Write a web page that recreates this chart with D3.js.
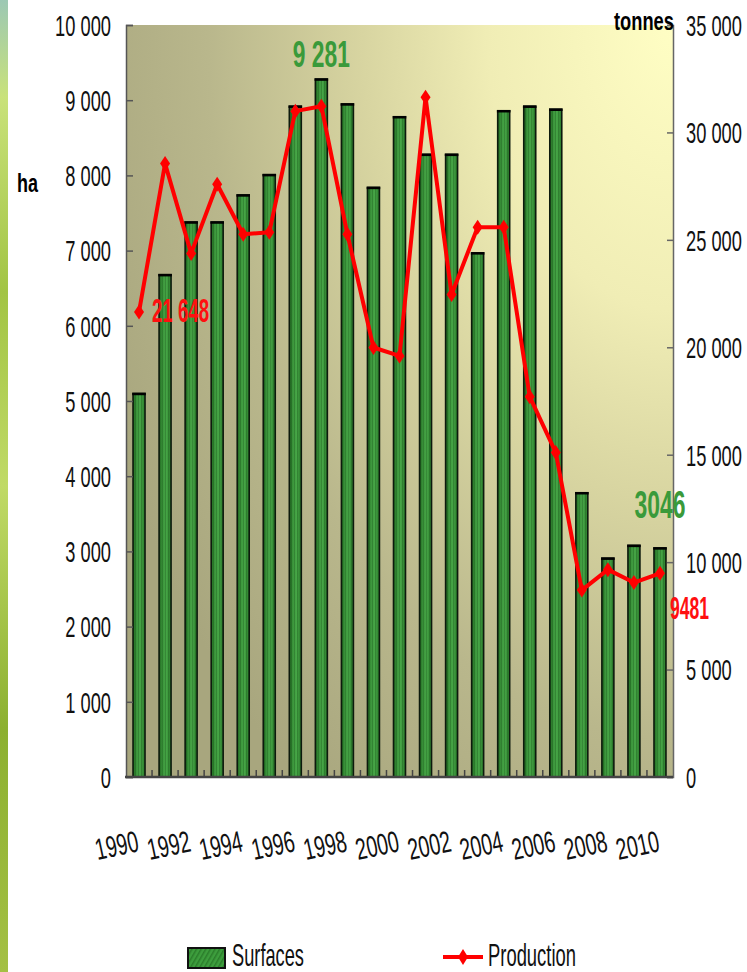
<!DOCTYPE html>
<html>
<head>
<meta charset="utf-8">
<script src="https://cdn.jsdelivr.net/npm/d3@7"></script>
<style>
  body { margin: 0; background: #fff; }
  svg { display: block; }
  text { font-family: "Liberation Sans", Arial, sans-serif; }
</style>
</head>
<body>
<svg id="chart"></svg>
<script>
const years = [1990, 1991, 1992, 1993, 1994, 1995, 1996, 1997, 1998, 1999, 2000,
  2001, 2002, 2003, 2004, 2005, 2006, 2007, 2008, 2009, 2010];
const surfaces = [5100, 6680, 7380, 7380, 7740, 8010, 8920, 9281, 8950, 7840, 8780,
  8280, 8280, 6970, 8860, 8920, 8880, 3780, 2910, 3080, 3046];
const production = [21648, 28550, 24370, 27590, 25260, 25350, 30990, 31220, 25260, 19990, 19600,
  31640, 22460, 25590, 25590, 17700, 15100, 8700, 9650, 9050, 9481];
const yearLabels = [1990, 1992, 1994, 1996, 1998, 2000, 2002, 2004, 2006, 2008, 2010];
const haTicks = [0, 1000, 2000, 3000, 4000, 5000, 6000, 7000, 8000, 9000, 10000];
const tonnesTicks = [0, 5000, 10000, 15000, 20000, 25000, 30000, 35000];

const width = 747;
const height = 972;
const plotLeft = 126, plotRight = 673, plotTop = 25, plotBottom = 777;

const svg = d3.select("#chart")
  .attr("width", width)
  .attr("height", height);

const fr = d3.formatLocale({ thousands: " ", grouping: [3], decimal: ",", currency: ["", ""] });
const fmt = fr.format(",d");

// the slide was stretched tall, so text is squeezed sideways
function fit(t, x, y, w, rot) {
  const n = t.node().getComputedTextLength();
  t.attr("transform", `translate(${x},${y})${rot ? ` rotate(${rot})` : ""} scale(${w / n},1)`);
  return t;
}

const defs = svg.append("defs");

const bg = defs.append("radialGradient")
  .attr("id", "bg")
  .attr("gradientUnits", "userSpaceOnUse")
  .attr("cx", 0).attr("cy", 0).attr("r", 1)
  .attr("gradientTransform", `translate(${plotRight},${plotTop}) scale(620,950)`);
[[0, "#fffec4"], [0.3, "#f0edb5"], [0.5, "#d8d5a1"], [0.75, "#b9b78c"], [1, "#a8a67e"]]
  .forEach(s => bg.append("stop").attr("offset", s[0]).attr("stop-color", s[1]));

const barGrad = defs.append("linearGradient").attr("id", "barGrad");
[[0, "#1f661f"], [0.3, "#3c963c"], [0.6, "#46a546"], [1, "#2a7a2a"]]
  .forEach(s => barGrad.append("stop").attr("offset", s[0]).attr("stop-color", s[1]));

const stripes = defs.append("pattern")
  .attr("id", "stripes")
  .attr("patternUnits", "userSpaceOnUse")
  .attr("width", 3).attr("height", 8);
stripes.append("rect").attr("width", 1).attr("height", 8).attr("fill", "rgba(10,60,10,0.25)");

const hatch = defs.append("pattern")
  .attr("id", "hatch")
  .attr("patternUnits", "userSpaceOnUse")
  .attr("width", 4).attr("height", 4)
  .attr("patternTransform", "rotate(30)");
hatch.append("rect").attr("width", 4).attr("height", 4).attr("fill", "#3d9d3d");
hatch.append("rect").attr("width", 1.5).attr("height", 4).attr("fill", "#2b7d2b");

const strip = defs.append("linearGradient").attr("id", "strip")
  .attr("x1", 0).attr("y1", 0).attr("x2", 0).attr("y2", 1);
[[0, "#9cc8b4"], [0.1, "#c9e27a"], [0.3, "#a2c444"], [0.5, "#c0da66"], [0.75, "#8cb030"], [1, "#a4c044"]]
  .forEach(s => strip.append("stop").attr("offset", s[0]).attr("stop-color", s[1]));

svg.append("rect").attr("x", 0).attr("y", 0).attr("width", 8).attr("height", height).attr("fill", "url(#strip)");

// scales
const x = d3.scaleBand()
  .domain(years)
  .range([plotLeft, plotRight])
  .paddingInner(0.54)
  .paddingOuter(0.27);
const xc = d => x(d) + x.bandwidth() / 2;

const yL = d3.scaleLinear().domain([0, 10000]).range([plotBottom, plotTop]);
const yR = d3.scaleLinear().domain([0, 35000]).range([plotBottom, plotTop]);

// plot area
svg.append("rect")
  .attr("x", plotLeft).attr("y", plotTop)
  .attr("width", plotRight - plotLeft).attr("height", plotBottom - plotTop)
  .attr("fill", "url(#bg)");

// bars
const bars = svg.append("g");
bars.selectAll(".bar")
  .data(years)
  .enter()
  .append("rect")
  .attr("class", "bar")
  .attr("x", d => x(d))
  .attr("y", (d, i) => yL(surfaces[i]))
  .attr("width", x.bandwidth())
  .attr("height", (d, i) => plotBottom - yL(surfaces[i]))
  .attr("fill", "url(#barGrad)")
  .attr("stroke", "#0d1a0d")
  .attr("stroke-width", 1.6);
bars.selectAll(".tex")
  .data(years)
  .enter()
  .append("rect")
  .attr("class", "tex")
  .attr("x", d => x(d) + 1)
  .attr("y", (d, i) => yL(surfaces[i]) + 1)
  .attr("width", x.bandwidth() - 2)
  .attr("height", (d, i) => plotBottom - yL(surfaces[i]) - 1)
  .attr("fill", "url(#stripes)");
bars.selectAll(".cap")
  .data(years)
  .enter()
  .append("line")
  .attr("class", "cap")
  .attr("x1", d => x(d) - 0.8)
  .attr("x2", d => x(d) + x.bandwidth() + 0.8)
  .attr("y1", (d, i) => yL(surfaces[i]) + 0.5)
  .attr("y2", (d, i) => yL(surfaces[i]) + 0.5)
  .attr("stroke", "#000")
  .attr("stroke-width", 2.5);

// axes
const leftAxis = svg.append("g")
  .attr("transform", `translate(${plotLeft},0)`)
  .call(d3.axisRight(yL).tickValues(haTicks).tickSize(7).tickFormat(""));
leftAxis.select(".domain").attr("stroke", "#555").attr("stroke-width", 1.5);
leftAxis.selectAll(".tick line").attr("stroke", "#555").attr("stroke-width", 1.5);

const rightAxis = svg.append("g")
  .attr("transform", `translate(${plotRight},0)`)
  .call(d3.axisLeft(yR).tickValues(tonnesTicks).tickSize(6).tickFormat(""));
rightAxis.select(".domain").attr("stroke", "#666").attr("stroke-width", 1.5);
rightAxis.selectAll(".tick line").attr("stroke", "#666").attr("stroke-width", 1.5);

// bottom axis with ticks between categories
const bounds = years.slice(1).map(d => x(d) - x.step() * x.paddingInner() / 2);
svg.append("g").selectAll("line")
  .data(bounds)
  .enter()
  .append("line")
  .attr("x1", d => d).attr("x2", d => d)
  .attr("y1", plotBottom).attr("y2", plotBottom - 7)
  .attr("stroke", "#444").attr("stroke-width", 1.5);
svg.append("line")
  .attr("x1", plotLeft - 1).attr("x2", plotRight)
  .attr("y1", plotBottom).attr("y2", plotBottom)
  .attr("stroke", "#444").attr("stroke-width", 2.5);

// tick labels
svg.append("g").selectAll("text")
  .data(haTicks)
  .enter()
  .append("text")
  .attr("transform", d => `translate(111,${yL(d)}) scale(0.61,1)`)
  .attr("dy", "0.36em")
  .attr("text-anchor", "end")
  .attr("font-size", 30)
  .attr("fill", "#111")
  .text(d => fmt(d));

svg.append("g").selectAll("text")
  .data(tonnesTicks)
  .enter()
  .append("text")
  .attr("transform", d => `translate(686,${yR(d)}) scale(0.61,1)`)
  .attr("dy", "0.36em")
  .attr("font-size", 30)
  .attr("fill", "#111")
  .text(d => fmt(d));

svg.append("g").selectAll("text")
  .data(yearLabels)
  .enter()
  .append("text")
  .attr("transform", d => `translate(${xc(d) + 1},851) rotate(-12) scale(0.65,1)`)
  .attr("text-anchor", "end")
  .attr("font-size", 30)
  .attr("fill", "#111")
  .text(d => d);

// production line
const line = d3.line()
  .x((d, i) => xc(years[i]))
  .y(d => yR(d));
svg.append("path")
  .datum(production)
  .attr("d", line)
  .attr("fill", "none")
  .attr("stroke", "#ff0000")
  .attr("stroke-width", 4)
  .attr("stroke-linejoin", "round");

const diamond = "M0,-7.5L5,0L0,7.5L-5,0Z";
svg.append("g").selectAll("path")
  .data(production)
  .enter()
  .append("path")
  .attr("transform", (d, i) => `translate(${xc(years[i])},${yR(d)})`)
  .attr("d", diamond)
  .attr("fill", "#ff0000");

// annotations
const last = years.length - 1;
fit(svg.append("text")
  .attr("font-size", 33).attr("font-weight", "bold").attr("fill", "#ff1010")
  .text(fmt(production[0])), xc(years[0]) + 13, yR(production[0]) + 10, 57);
fit(svg.append("text")
  .attr("text-anchor", "middle")
  .attr("font-size", 36).attr("font-weight", "bold").attr("fill", "#3a9a3a")
  .text(fmt(surfaces[7])), xc(1997), yL(surfaces[7]) - 12, 57);
fit(svg.append("text")
  .attr("text-anchor", "middle")
  .attr("font-size", 38).attr("font-weight", "bold").attr("fill", "#3a9a3a")
  .text(surfaces[last]), xc(years[last]), yL(surfaces[last]) - 30, 51);
fit(svg.append("text")
  .attr("font-size", 32).attr("font-weight", "bold").attr("fill", "#ff1010")
  .text(production[last]), xc(years[last]) + 10, yR(production[last]) + 46, 39);

// axis titles
fit(svg.append("text")
  .attr("font-size", 26).attr("font-weight", "bold").attr("fill", "#000")
  .text("ha"), 17, 192, 21);
fit(svg.append("text")
  .attr("font-size", 25).attr("font-weight", "bold").attr("fill", "#000")
  .text("tonnes"), 614, 30, 60);

// legend
const legend = svg.append("g");
legend.append("rect")
  .attr("x", 188).attr("y", 948).attr("width", 37).attr("height", 20)
  .attr("fill", "url(#hatch)")
  .attr("stroke", "#111").attr("stroke-width", 2);
fit(legend.append("text")
  .attr("font-size", 31).attr("fill", "#111")
  .text("Surfaces"), 232, 966, 72);
legend.append("line")
  .attr("x1", 443).attr("x2", 483).attr("y1", 957).attr("y2", 957)
  .attr("stroke", "#ff0000").attr("stroke-width", 4);
legend.append("path")
  .attr("transform", "translate(463,957)")
  .attr("d", "M0,-8L5,0L0,8L-5,0Z")
  .attr("fill", "#ff0000");
fit(legend.append("text")
  .attr("font-size", 31).attr("fill", "#111")
  .text("Production"), 488, 966, 88);
</script>
</body>
</html>
